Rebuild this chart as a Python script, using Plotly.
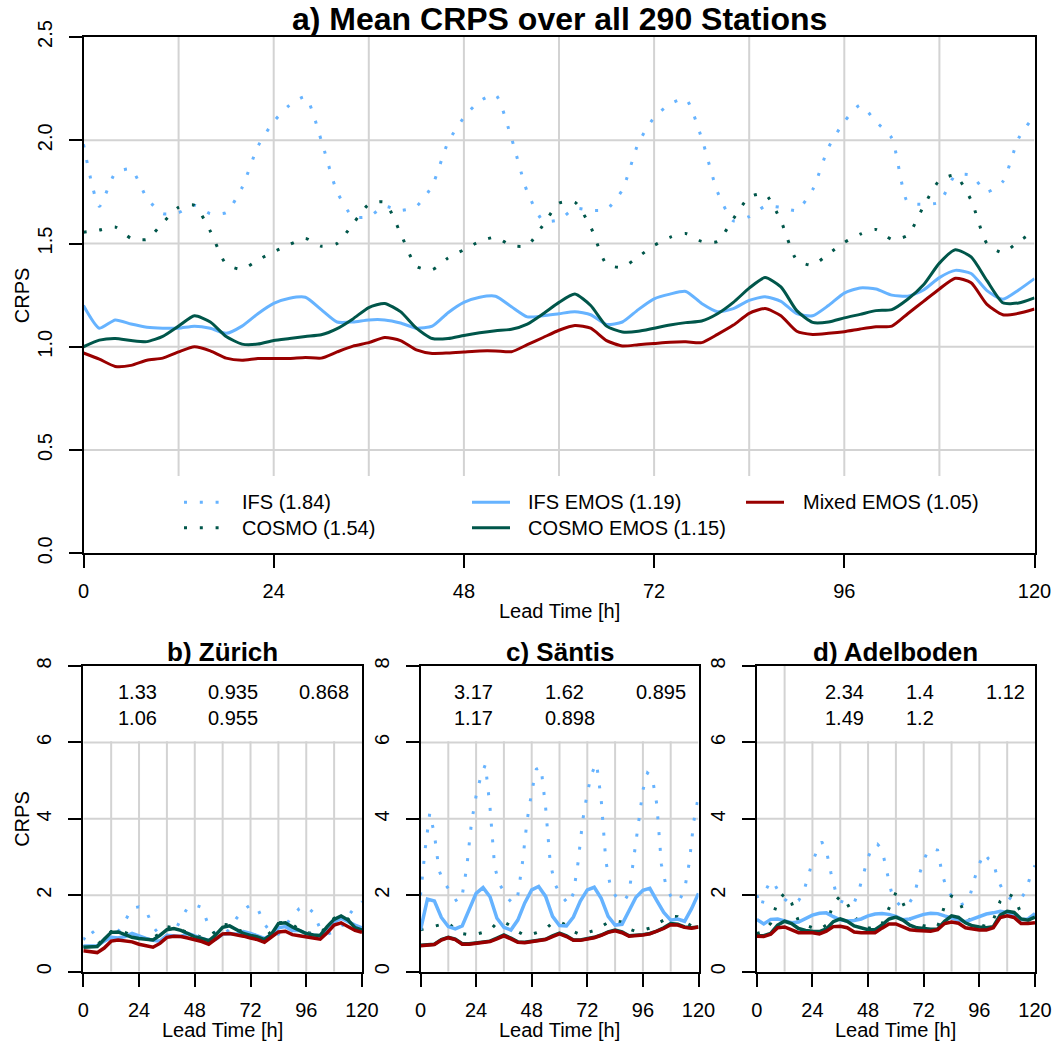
import plotly.graph_objects as go

# the page body margin is removed (post_script below), so the figure fills the window
OFF = 0
W, H = 1057, 1046
FONT = "Liberation Sans, Arial, Helvetica, sans-serif"

# ---------------- categories / ticks ----------------
LEAD_2H = list(range(0, 121, 2))
LEAD_3H = list(range(0, 121, 3))
X_TICKS = [0, 24, 48, 72, 96, 120]
X_GRID = [12, 24, 36, 48, 60, 72, 84, 96, 108]
A_Y_TICKS = [0.0, 0.5, 1.0, 1.5, 2.0, 2.5]
A_Y_GRID = [0.5, 1.0, 1.5, 2.0]
BOT_Y_TICKS = [0, 2, 4, 6, 8]
BOT_Y_GRID = [2, 4, 6]

PANEL_TITLES = ["a) Mean CRPS over all 290 Stations", "b) Zürich", "c) Säntis", "d) Adelboden"]
TITLE_SIZES = [32, 26, 26, 26]
LEGEND_LABELS = ["IFS (1.84)", "COSMO (1.54)", "IFS EMOS (1.19)", "COSMO EMOS (1.15)", "Mixed EMOS (1.05)"]
B_MEANS = [["1.33", "0.935", "0.868"], ["1.06", "0.955"]]
C_MEANS = [["3.17", "1.62", "0.895"], ["1.17", "0.898"]]
D_MEANS = [["2.34", "1.4", "1.12"], ["1.49", "1.2"]]

# ---------------- panel a: mean over all stations (2-hourly) ----------------
A_IFS = [1.98, 1.68, 1.84, 1.86, 1.72, 1.645, 1.65, 1.685, 1.645, 1.65,
         1.77, 1.97, 2.09, 2.17, 2.21, 2.00, 1.75, 1.63, 1.63, 1.68,
         1.66, 1.68, 1.78, 1.99, 2.11, 2.19, 2.22, 2.01, 1.75, 1.61,
         1.615, 1.67, 1.66, 1.665, 1.76, 1.985, 2.11, 2.175, 2.20, 2.01,
         1.75, 1.61, 1.63, 1.68, 1.675, 1.66, 1.76, 1.965, 2.09, 2.17,
         2.09, 2.01, 1.70, 1.69, 1.70, 1.83, 1.83, 1.75, 1.80, 2.01,
         2.12]
A_COSMO = [1.555, 1.565, 1.58, 1.525, 1.52, 1.60, 1.675, 1.685, 1.56, 1.40,
           1.375, 1.42, 1.46, 1.495, 1.525, 1.487, 1.50, 1.595, 1.69, 1.70,
           1.55, 1.39, 1.373, 1.43, 1.47, 1.51, 1.53, 1.49, 1.49, 1.59,
           1.695, 1.70, 1.58, 1.40, 1.385, 1.436, 1.49, 1.53, 1.548, 1.51,
           1.51, 1.62, 1.725, 1.74, 1.61, 1.42, 1.395, 1.45, 1.505, 1.545,
           1.568, 1.52, 1.54, 1.68, 1.805, 1.83, 1.71, 1.50, 1.455, 1.51,
           1.56]
A_IFS_EMOS = [1.20, 1.09, 1.13, 1.11, 1.095, 1.09, 1.09, 1.10, 1.09, 1.065,
              1.10, 1.16, 1.21, 1.235, 1.24, 1.18, 1.12, 1.12, 1.13, 1.13,
              1.115, 1.09, 1.10, 1.165, 1.215, 1.24, 1.245, 1.194, 1.145, 1.15,
              1.16, 1.17, 1.155, 1.108, 1.12, 1.18, 1.232, 1.255, 1.268, 1.21,
              1.17, 1.185, 1.225, 1.242, 1.22, 1.16, 1.15, 1.20, 1.26, 1.285,
              1.28, 1.25, 1.245, 1.275, 1.335, 1.37, 1.355, 1.272, 1.23, 1.275,
              1.33]
A_COSMO_EMOS = [1.00, 1.032, 1.04, 1.03, 1.025, 1.05, 1.10, 1.15, 1.12, 1.05,
                1.013, 1.013, 1.03, 1.04, 1.05, 1.058, 1.088, 1.135, 1.19, 1.21,
                1.17, 1.09, 1.04, 1.04, 1.055, 1.068, 1.078, 1.085, 1.11, 1.16,
                1.215, 1.255, 1.20, 1.10, 1.072, 1.075, 1.09, 1.105, 1.117, 1.125,
                1.16, 1.215, 1.284, 1.335, 1.29, 1.175, 1.118, 1.12, 1.14, 1.157,
                1.175, 1.18, 1.23, 1.30, 1.405, 1.47, 1.435, 1.32, 1.213, 1.212,
                1.237]
A_MIXED = [0.97, 0.94, 0.905, 0.91, 0.935, 0.945, 0.975, 1.00, 0.98, 0.945,
           0.935, 0.943, 0.943, 0.943, 0.948, 0.945, 0.975, 1.003, 1.02, 1.045,
           1.03, 0.985, 0.968, 0.97, 0.975, 0.98, 0.98, 0.976, 1.01, 1.045,
           1.08, 1.103, 1.09, 1.03, 1.004, 1.01, 1.016, 1.022, 1.024, 1.02,
           1.06, 1.105, 1.162, 1.185, 1.15, 1.075, 1.06, 1.065, 1.073, 1.086,
           1.097, 1.10, 1.16, 1.22, 1.28, 1.332, 1.31, 1.205, 1.155, 1.162,
           1.183]

# ---------------- panel b: Zürich (3-hourly) ----------------
B_IFS = [0.83, 1.12, 0.88, 0.85, 0.92, 1.05, 1.33, 1.66, 1.70, 1.60,
         1.18, 0.95, 0.90, 1.00, 1.38, 1.68, 1.75, 1.68, 1.20, 0.98,
         0.95, 1.12, 1.40, 1.62, 1.75, 1.66, 1.25, 1.00, 0.98, 1.20,
         1.46, 1.65, 1.72, 1.55, 1.12, 0.98, 1.05, 1.15, 1.45, 1.70,
         1.83]
B_COSMO = [0.66, 0.66, 0.70, 0.88, 1.05, 1.06, 1.03, 0.95, 0.90, 0.88,
           0.89, 1.00, 1.18, 1.15, 1.09, 1.02, 0.95, 0.90, 0.94, 1.05,
           1.24, 1.22, 1.12, 1.03, 0.98, 0.94, 0.90, 1.05, 1.28, 1.30,
           1.24, 1.10, 1.03, 1.00, 0.99, 1.22, 1.40, 1.47, 1.38, 1.20,
           1.12]
B_IFS_EMOS = [0.67, 0.68, 0.68, 0.80, 0.90, 0.88, 0.92, 1.00, 0.93, 0.87,
              0.82, 0.80, 0.95, 0.93, 0.92, 1.00, 0.93, 0.87, 0.82, 0.85,
              0.98, 1.00, 0.98, 1.05, 1.00, 0.93, 0.87, 0.95, 1.15, 1.18,
              1.08, 1.08, 1.00, 0.96, 0.92, 1.12, 1.30, 1.40, 1.30, 1.22,
              1.15]
B_COSMO_EMOS = [0.64, 0.64, 0.66, 0.85, 1.03, 1.04, 0.97, 0.90, 0.87, 0.86,
                0.83, 0.95, 1.10, 1.13, 1.08, 1.00, 0.91, 0.87, 0.81, 0.96,
                1.16, 1.20, 1.10, 1.00, 0.95, 0.91, 0.84, 0.98, 1.26, 1.28,
                1.17, 1.08, 1.00, 0.96, 0.95, 1.18, 1.37, 1.46, 1.35, 1.15,
                1.09]
B_MIXED = [0.55, 0.52, 0.50, 0.62, 0.80, 0.83, 0.81, 0.78, 0.72, 0.68,
           0.64, 0.74, 0.90, 0.93, 0.92, 0.88, 0.84, 0.79, 0.72, 0.85,
           0.99, 1.00, 0.97, 0.93, 0.88, 0.84, 0.77, 0.90, 1.04, 1.06,
           0.97, 0.94, 0.91, 0.87, 0.85, 1.02, 1.22, 1.28, 1.18, 1.08,
           1.03]

# ---------------- panel c: Säntis ----------------
C_IFS = [2.00, 3.20, 4.15, 3.60, 2.65, 2.35, 2.18, 1.98, 1.81, 2.00,
         2.75, 3.90, 4.60, 5.10, 5.42, 4.30, 2.75, 2.30, 2.11, 1.90,
         1.78, 2.00, 2.85, 3.95, 4.70, 5.30, 5.36, 4.30, 2.85, 2.30,
         2.05, 1.90, 1.76, 2.05, 2.85, 3.95, 4.68, 5.20, 5.45, 4.50,
         2.90, 2.22, 2.00, 1.85, 1.86, 2.05, 2.90, 3.85, 4.75, 5.20,
         5.10, 4.38, 2.80, 2.25, 1.98, 1.84, 1.90, 2.15, 2.85, 3.95,
         4.60]  # 2-hourly
C_COSMO = [1.10, 1.15, 1.18, 1.24, 1.28, 1.10, 1.00, 0.97, 0.98, 1.03,
           1.08, 1.28, 1.30, 1.20, 1.05, 0.95, 0.98, 1.04, 1.12, 1.28,
           1.30, 1.22, 1.05, 0.97, 1.02, 1.08, 1.18, 1.29, 1.33, 1.30,
           1.12, 1.05, 1.09, 1.14, 1.25, 1.36, 1.45, 1.44, 1.30, 1.20,
           1.18]
C_IFS_EMOS = [1.09, 1.90, 1.85, 1.42, 1.18, 1.12, 1.20, 1.65, 2.05, 2.20,
              1.96, 1.40, 1.16, 1.09, 1.35, 1.80, 2.14, 2.23, 1.97, 1.45,
              1.21, 1.20, 1.43, 1.85, 2.14, 2.21, 1.92, 1.45, 1.22, 1.24,
              1.60, 1.95, 2.13, 2.18, 1.86, 1.55, 1.35, 1.38, 1.32, 1.65,
              2.05]
C_COSMO_EMOS = [0.69, 0.70, 0.72, 0.84, 0.90, 0.85, 0.73, 0.73, 0.75, 0.78,
                0.80, 0.88, 0.96, 0.88, 0.78, 0.77, 0.79, 0.81, 0.85, 0.94,
                1.01, 0.94, 0.83, 0.83, 0.86, 0.90, 0.96, 1.04, 1.09, 1.04,
                0.94, 0.95, 0.97, 1.00, 1.06, 1.15, 1.26, 1.24, 1.17, 1.15,
                1.17]
C_MIXED = [0.68, 0.69, 0.71, 0.83, 0.89, 0.84, 0.72, 0.72, 0.74, 0.77,
           0.79, 0.86, 0.94, 0.86, 0.77, 0.76, 0.78, 0.80, 0.84, 0.92,
           0.99, 0.92, 0.82, 0.82, 0.85, 0.89, 0.95, 1.03, 1.07, 1.02,
           0.93, 0.94, 0.96, 0.99, 1.05, 1.13, 1.23, 1.22, 1.16, 1.14,
           1.17]

# ---------------- panel d: Adelboden ----------------
D_IFS = [2.00, 1.70, 2.15, 2.38, 2.25, 2.03, 1.90, 1.80, 1.80, 1.86,
         2.05, 2.45, 2.88, 3.17, 3.40, 3.17, 2.58, 2.10, 1.85, 1.80,
         1.78, 1.80, 2.12, 2.55, 2.99, 3.28, 3.34, 3.20, 2.60, 2.10,
         1.85, 1.72, 1.70, 1.82, 2.02, 2.52, 2.92, 3.18, 3.22, 3.18,
         2.55, 2.15, 1.98, 1.85, 1.75, 1.80, 2.00, 2.45, 2.82, 3.10,
         2.95, 2.88, 2.40, 2.15, 1.98, 1.88, 1.88, 1.92, 2.10, 2.50,
         2.78]  # 2-hourly
D_COSMO = [1.00, 1.05, 1.27, 1.85, 2.05, 1.80, 1.32, 1.22, 1.15, 1.10,
           1.22, 1.78, 1.98, 1.78, 1.45, 1.25, 1.15, 1.11, 1.25, 1.65,
           2.07, 1.80, 1.40, 1.25, 1.20, 1.18, 1.18, 1.72, 1.98, 1.90,
           1.45, 1.28, 1.22, 1.18, 1.35, 1.85, 2.05, 1.95, 1.52, 1.38,
           1.30]
D_IFS_EMOS = [1.37, 1.25, 1.37, 1.38, 1.33, 1.28, 1.30, 1.40, 1.48, 1.53,
              1.54, 1.44, 1.36, 1.33, 1.34, 1.38, 1.46, 1.51, 1.52, 1.50,
              1.45, 1.36, 1.38, 1.44, 1.50, 1.53, 1.52, 1.46, 1.40, 1.35,
              1.31, 1.37, 1.45, 1.51, 1.54, 1.58, 1.55, 1.48, 1.36, 1.38,
              1.52]
D_COSMO_EMOS = [0.94, 0.94, 1.00, 1.22, 1.32, 1.26, 1.13, 1.08, 1.06, 1.05,
                1.12, 1.31, 1.38, 1.32, 1.20, 1.14, 1.10, 1.10, 1.22, 1.38,
                1.43, 1.35, 1.22, 1.15, 1.12, 1.11, 1.12, 1.32, 1.46, 1.42,
                1.28, 1.20, 1.17, 1.15, 1.18, 1.48, 1.58, 1.55, 1.38, 1.35,
                1.43]
D_MIXED = [0.93, 0.92, 0.98, 1.15, 1.17, 1.10, 1.02, 1.02, 1.02, 0.99,
           1.06, 1.18, 1.19, 1.15, 1.04, 1.02, 1.01, 1.02, 1.14, 1.25,
           1.25, 1.18, 1.10, 1.08, 1.07, 1.06, 1.10, 1.26, 1.30, 1.27,
           1.15, 1.11, 1.09, 1.09, 1.15, 1.42, 1.46, 1.42, 1.26, 1.26,
           1.28]

# ---------------- styling ----------------
COL_LIGHT = "#66B3FF"
COL_TEAL = "#00564A"
COL_RED = "#990000"
GRID_COL = "#D3D3D3"
DOT = "3px,12.8px"

# plot-area boxes in window pixels: (left, right, top, bottom)
BOX = {
    1: (83.5, 1034.5, 37.0, 553.3),
    2: (83.3, 362.0, 666.0, 971.7),
    3: (420.5, 698.5, 666.0, 971.7),
    4: (756.8, 1035.0, 666.0, 971.7),
}
TITLE_Y = [19, 652, 652, 652]


def px(x):
    return (x - OFF) / W


def py(y):
    return 1 - (y - OFF) / H


fig = go.Figure()


def axis_names(i):
    return ("x" if i == 1 else f"x{i}"), ("y" if i == 1 else f"y{i}")


def add_panel(i, x_ifs, ifs, x_cos, cosmo, x_emos, ifs_emos, cosmo_emos, mixed, lw, shape):
    xa, ya = axis_names(i)
    series = [
        (x_ifs, ifs, COL_LIGHT, DOT, 3),
        (x_cos, cosmo, COL_TEAL, DOT, 3),
        (x_emos, ifs_emos, COL_LIGHT, "solid", lw),
        (x_emos, cosmo_emos, COL_TEAL, "solid", lw),
        (x_emos, mixed, COL_RED, "solid", lw),
    ]
    for xs, ys, col, dash, w in series:
        fig.add_trace(go.Scatter(
            x=xs, y=ys, mode="lines", xaxis=xa, yaxis=ya,
            line=dict(color=col, width=w, dash=dash, shape=shape, smoothing=0.6),
            showlegend=False, hoverinfo="skip"))


add_panel(1, LEAD_2H, A_IFS, LEAD_2H, A_COSMO, LEAD_2H, A_IFS_EMOS, A_COSMO_EMOS, A_MIXED, 3, "spline")
add_panel(2, LEAD_3H, B_IFS, LEAD_3H, B_COSMO, LEAD_3H, B_IFS_EMOS, B_COSMO_EMOS, B_MIXED, 3.5, "linear")
add_panel(3, LEAD_2H, C_IFS, LEAD_3H, C_COSMO, LEAD_3H, C_IFS_EMOS, C_COSMO_EMOS, C_MIXED, 3.5, "linear")
add_panel(4, LEAD_2H, D_IFS, LEAD_3H, D_COSMO, LEAD_3H, D_IFS_EMOS, D_COSMO_EMOS, D_MIXED, 3.5, "linear")

# ---------------- axes ----------------
layout_axes = {}
for i, (l, r, t, b) in BOX.items():
    xkey = "xaxis" if i == 1 else f"xaxis{i}"
    ykey = "yaxis" if i == 1 else f"yaxis{i}"
    xa, ya = axis_names(i)
    common = dict(showline=True, linecolor="black", linewidth=2, mirror=True,
                  ticks="outside", ticklen=13, tickwidth=2, tickcolor="black",
                  showgrid=False, zeroline=False, fixedrange=True, automargin=False,
                  tickfont=dict(size=20, color="black", family=FONT))
    layout_axes[xkey] = dict(common, domain=[px(l), px(r)], range=[0, 120],
                             tickmode="array", tickvals=X_TICKS, anchor=ya,
                             ticklabelstandoff=6)
    if i == 1:
        yt, yr, fmt = A_Y_TICKS, [0, 2.5], ".1f"
    else:
        yt, yr, fmt = BOT_Y_TICKS, [0, 8], "d"
    layout_axes[ykey] = dict(common, domain=[py(b), py(t)], range=yr,
                             tickmode="array", tickvals=yt, tickformat=fmt,
                             tickangle=-90, anchor=xa, ticklabelstandoff=9)

# ---------------- grid lines (as shapes, stopping under legend boxes) ----------------
shapes = []
TOP_LEGEND_TOP = 0.374
BOT_LEGEND_BOTTOM = 6.03
BOT_LEGEND_LEFT = {2: 4.2, 3: 3.7, 4: 18.6}
for i in BOX:
    xa, ya = axis_names(i)
    if i == 1:
        ytop, ygrid = 2.5, A_Y_GRID
    else:
        ytop, ygrid = 8, BOT_Y_GRID
    for g in X_GRID:
        if i == 1:
            y0, y1 = TOP_LEGEND_TOP, ytop
        elif g > BOT_LEGEND_LEFT[i]:
            y0, y1 = 0, BOT_LEGEND_BOTTOM
        else:
            y0, y1 = 0, ytop
        shapes.append(dict(type="line", xref=xa, yref=ya, x0=g, x1=g, y0=y0, y1=y1,
                           line=dict(color=GRID_COL, width=2), layer="below"))
    for g in ygrid:
        shapes.append(dict(type="line", xref=xa, yref=ya, x0=0, x1=120, y0=g, y1=g,
                           line=dict(color=GRID_COL, width=2), layer="below"))

# ---------------- legend of panel a (drawn manually, three columns) ----------------
LEG_ROWS = [502.3, 527.7]
LEG_COLS = [(184, 222, 240), (472, 510, 526), (746, 784, 801)]
leg_items = [
    (0, 0, COL_LIGHT, DOT, 3), (0, 1, COL_TEAL, DOT, 3),
    (1, 0, COL_LIGHT, "solid", 3), (1, 1, COL_TEAL, "solid", 3),
    (2, 0, COL_RED, "solid", 3),
]
annotations = []
for k, (c, rrow, col, dash, w) in enumerate(leg_items):
    s0, s1, tx = LEG_COLS[c]
    yy = LEG_ROWS[rrow]
    shapes.append(dict(type="line", xref="paper", yref="paper",
                       x0=px(s0), x1=px(s1), y0=py(yy), y1=py(yy),
                       line=dict(color=col, width=w, dash=dash), layer="above"))
    annotations.append(dict(text=LEGEND_LABELS[k], xref="paper", yref="paper",
                            x=px(tx), y=py(yy), xanchor="left", yanchor="middle",
                            showarrow=False, font=dict(size=20, color="black", family=FONT)))

# ---------------- mean-value tables in panels b-d ----------------
MEAN_COLS = {2: [116, 206, 297], 3: [452, 543, 634], 4: [823, 904, 984]}
MEAN_ROWS = [692.3, 718.3]
for i, table in zip([2, 3, 4], [B_MEANS, C_MEANS, D_MEANS]):
    for rrow, row in enumerate(table):
        for c, txt in enumerate(row):
            annotations.append(dict(text=txt, xref="paper", yref="paper",
                                    x=px(MEAN_COLS[i][c]), y=py(MEAN_ROWS[rrow]),
                                    xanchor="left", yanchor="middle", showarrow=False,
                                    font=dict(size=20, color="black", family=FONT)))

# ---------------- titles and axis titles ----------------
for i, title in enumerate(PANEL_TITLES, start=1):
    l, r, t, b = BOX[i]
    annotations.append(dict(text=f"<b>{title}</b>", xref="paper", yref="paper",
                            x=px((l + r) / 2), y=py(TITLE_Y[i - 1]), xanchor="center",
                            yanchor="middle", showarrow=False, borderpad=0,
                            font=dict(size=TITLE_SIZES[i - 1], color="black", family=FONT)))
    annotations.append(dict(text="Lead Time [h]", xref="paper", yref="paper",
                            x=px((l + r) / 2), y=py(b + 58), xanchor="center", yanchor="middle",
                            showarrow=False, font=dict(size=20, color="black", family=FONT)))
for i in [1, 2]:
    l, r, t, b = BOX[i]
    annotations.append(dict(text="CRPS", xref="paper", yref="paper",
                            x=px(22), y=py((t + b) / 2), xanchor="center", yanchor="middle",
                            textangle=-90, showarrow=False,
                            font=dict(size=20, color="black", family=FONT)))

fig.update_layout(
    width=W, height=H, autosize=False,
    margin=dict(l=0, r=0, t=0, b=0),
    paper_bgcolor="white", plot_bgcolor="white",
    font=dict(family=FONT, color="black", size=20),
    shapes=shapes, annotations=annotations,
    showlegend=False,
    **layout_axes,
)

fig.write_html("out.html",
               config={"displayModeBar": False},
               post_script="document.body.style.margin='0px';document.body.style.overflow='hidden';")
